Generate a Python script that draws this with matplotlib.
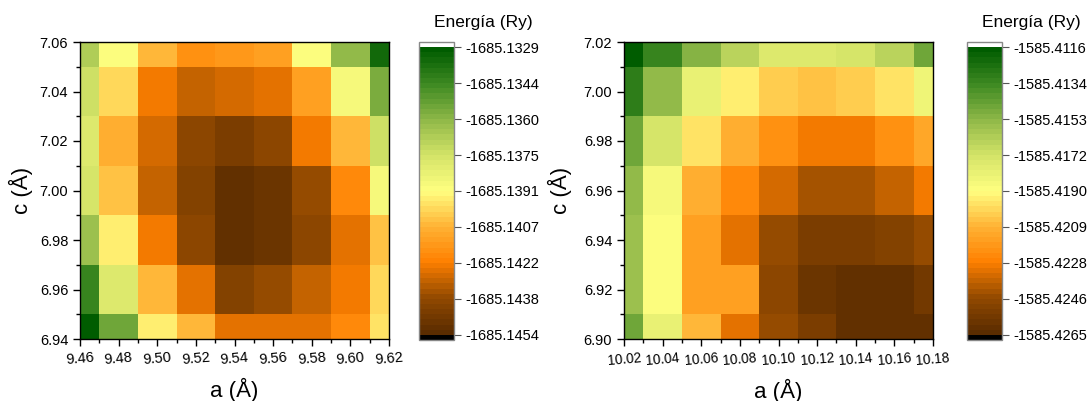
import matplotlib
matplotlib.use("Agg")
import matplotlib.pyplot as plt
import numpy as np
from matplotlib.colors import LinearSegmentedColormap
from matplotlib.ticker import MultipleLocator

plt.rcParams['font.family'] = ['Liberation Sans', 'DejaVu Sans']

# data: lattice parameters (cell centres) and total energy (Ry)
a_left = [9.46, 9.48, 9.50, 9.52, 9.54, 9.56, 9.58, 9.60, 9.62]
c_left = [6.94, 6.96, 6.98, 7.00, 7.02, 7.04, 7.06]
# rows from c = 6.94 (bottom) to 7.06 (top)
E_left = [
    [-1685.13303, -1685.13540, -1685.13953, -1685.14065, -1685.14253, -1685.14265, -1685.14265, -1685.14190, -1685.13978],
    [-1685.13440, -1685.13790, -1685.14065, -1685.14265, -1685.14415, -1685.14365, -1685.14315, -1685.14228, -1685.13990],
    [-1685.13628, -1685.13953, -1685.14228, -1685.14390, -1685.14515, -1685.14478, -1685.14390, -1685.14253, -1685.14028],
    [-1685.13765, -1685.14040, -1685.14315, -1685.14415, -1685.14515, -1685.14478, -1685.14365, -1685.14190, -1685.13890],
    [-1685.13790, -1685.14090, -1685.14290, -1685.14390, -1685.14440, -1685.14390, -1685.14228, -1685.14065, -1685.13753],
    [-1685.13753, -1685.13990, -1685.14228, -1685.14315, -1685.14290, -1685.14265, -1685.14128, -1685.13890, -1685.13578],
    [-1685.13690, -1685.13915, -1685.14065, -1685.14178, -1685.14153, -1685.14128, -1685.13915, -1685.13603, -1685.13353],
]
cbar_left_labels = ['-1685.1454', '-1685.1438', '-1685.1422', '-1685.1407', '-1685.1391',
                    '-1685.1375', '-1685.1360', '-1685.1344', '-1685.1329']

a_right = [10.02, 10.04, 10.06, 10.08, 10.10, 10.12, 10.14, 10.16, 10.18]
c_right = [6.90, 6.92, 6.94, 6.96, 6.98, 7.00, 7.02]
# rows from c = 6.90 (bottom) to 7.02 (top)
E_right = [
    [-1585.41458, -1585.41801, -1585.42084, -1585.42307, -1585.42441, -1585.42531, -1585.42620, -1585.42620, -1585.42605],
    [-1585.41562, -1585.41905, -1585.42158, -1585.42158, -1585.42471, -1585.42576, -1585.42620, -1585.42620, -1585.42561],
    [-1585.41577, -1585.41905, -1585.42158, -1585.42322, -1585.42441, -1585.42531, -1585.42531, -1585.42501, -1585.42441],
    [-1585.41533, -1585.41875, -1585.42099, -1585.42248, -1585.42352, -1585.42412, -1585.42412, -1585.42382, -1585.42292],
    [-1585.41458, -1585.41726, -1585.41980, -1585.42114, -1585.42218, -1585.42278, -1585.42278, -1585.42218, -1585.42129],
    [-1585.41309, -1585.41533, -1585.41801, -1585.41950, -1585.42024, -1585.42054, -1585.42024, -1585.41980, -1585.41830],
    [-1585.41175, -1585.41339, -1585.41518, -1585.41652, -1585.41756, -1585.41756, -1585.41726, -1585.41652, -1585.41473],
]
cbar_right_labels = ['-1585.4265', '-1585.4246', '-1585.4228', '-1585.4209', '-1585.4190',
                     '-1585.4172', '-1585.4153', '-1585.4134', '-1585.4116']

# brown -> orange -> yellow -> green colour scale, stepped like the original
cmap = LinearSegmentedColormap.from_list('gyob', [
    (0.0, '#5a2c00'), (0.125, '#934a00'), (0.25, '#ff8000'), (0.375, '#ffb335'),
    (0.5, '#ffff80'), (0.625, '#d4e468'), (0.75, '#8fb848'), (0.875, '#3f8a22'),
    (1.0, '#005c00')], N=56)
cmap.set_under('black')
cmap.set_over('white')

fig = plt.figure(figsize=(10.92, 4.01), dpi=100)


def heatmap(ax_rect, cax_rect, a, c, E, labels, xsize, ylpad):
    ax = fig.add_axes(ax_rect)
    cax = fig.add_axes(cax_rect)
    vmin, vmax = float(labels[0]), float(labels[-1])
    mesh = ax.pcolormesh(a, c, np.array(E), cmap=cmap, vmin=vmin, vmax=vmax,
                         shading='nearest')
    ax.set_xlim(a[0], a[-1])
    ax.set_ylim(c[0], c[-1])
    ax.xaxis.set_major_locator(MultipleLocator(0.02))
    ax.xaxis.set_minor_locator(MultipleLocator(0.01))
    ax.yaxis.set_major_locator(MultipleLocator(0.02))
    ax.yaxis.set_minor_locator(MultipleLocator(0.01))
    ax.xaxis.set_major_formatter(matplotlib.ticker.FormatStrFormatter('%.2f'))
    ax.yaxis.set_major_formatter(matplotlib.ticker.FormatStrFormatter('%.2f'))
    ax.tick_params(which='both', direction='out', labelsize=10.5, width=1)
    ax.tick_params(axis='x', labelsize=xsize, labelrotation=5)
    ax.tick_params(which='major', length=5)
    ax.tick_params(which='minor', length=3)
    for s in ax.spines.values():
        s.set_linewidth(1)
    ax.set_xlabel('a (Å)', fontsize=16, labelpad=8)
    ax.set_ylabel('c (Å)', fontsize=16, labelpad=ylpad)

    cb = fig.colorbar(mesh, cax=cax, extend='both', extendrect=True, extendfrac=0.018)
    cb.set_ticks(np.linspace(vmin, vmax, len(labels)))
    cb.set_ticklabels(labels)
    cb.ax.tick_params(labelsize=10.5, length=5, width=0.8, color='#555555')
    cb.outline.set_edgecolor('#888888')
    cb.outline.set_linewidth(1)
    cb.ax.minorticks_off()
    x0, y0, w, h = cax_rect
    fig.text(x0 + w / 2 + 0.043, 0.945, 'Energía (Ry)', fontsize=12.5,
             ha='center', va='center')
    return ax


heatmap([80 / 1092, 62 / 401, 309 / 1092, 297 / 401],
        [419 / 1092, 61 / 401, 35 / 1092, 298 / 401],
        a_left, c_left, E_left, cbar_left_labels, 10.5, 5)
heatmap([624 / 1092, 62 / 401, 309 / 1092, 297 / 401],
        [967 / 1092, 61 / 401, 35 / 1092, 298 / 401],
        a_right, c_right, E_right, cbar_right_labels, 9.8, 8)

plt.savefig('out.png', dpi=100)
